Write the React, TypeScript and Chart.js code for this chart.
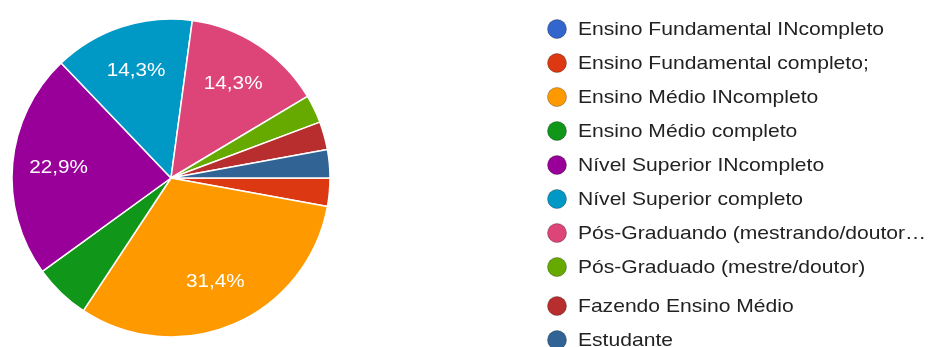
import React, { useEffect, useRef } from "react";
import { Chart, registerables } from "chart.js";

Chart.register(...registerables);

const categories = [
  "Ensino Fundamental INcompleto",
  "Ensino Fundamental completo;",
  "Ensino Médio INcompleto",
  "Ensino Médio completo",
  "Nível Superior INcompleto",
  "Nível Superior completo",
  "Pós-Graduando (mestrando/doutor…",
  "Pós-Graduado (mestre/doutor)",
  "Fazendo Ensino Médio",
  "Estudante",
];

const counts = [0, 1, 11, 2, 8, 5, 5, 1, 1, 1];

const sliceColors = [
  "#3366cc",
  "#dc3912",
  "#ff9900",
  "#109618",
  "#990099",
  "#0099c6",
  "#dd4477",
  "#66aa00",
  "#b82e2e",
  "#316395",
];

const fmtPct = (v: number, total: number) =>
  ((v / total) * 100).toFixed(1).replace(".", ",") + "%";

const pieLabelsPlugin = {
  id: "pieLabels",
  afterDatasetsDraw(chart: any) {
    const ctx = chart.ctx;
    const meta = chart.getDatasetMeta(0);
    const data = chart.data.datasets[0].data as number[];
    const total = data.reduce((a, b) => a + b, 0);
    ctx.save();
    ctx.font = "18px 'Liberation Sans', Arial, sans-serif";
    ctx.fillStyle = "#ffffff";
    ctx.textAlign = "center";
    ctx.textBaseline = "middle";
    meta.data.forEach((arc: any, i: number) => {
      const v = data[i];
      if (v / total < 0.1) return;
      const p = arc.getProps(["x", "y", "startAngle", "endAngle", "outerRadius"], true);
      const mid = (p.startAngle + p.endAngle) / 2;
      const r = p.outerRadius * 0.71;
      const tx = p.x + Math.cos(mid) * r;
      const ty = p.y + Math.sin(mid) * r;
      ctx.save();
      ctx.translate(tx, ty);
      ctx.scale(1.15, 1);
      ctx.fillText(fmtPct(v, total), 0, 0);
      ctx.restore();
    });
    ctx.restore();
  },
};

const legendPlugin = {
  id: "sideLegend",
  afterDraw(chart: any) {
    const ctx = chart.ctx;
    const labels = chart.data.labels as string[];
    const colors = chart.data.datasets[0].backgroundColor as string[];
    ctx.save();
    ctx.font = "18.5px 'Liberation Sans', Arial, sans-serif";
    ctx.textBaseline = "middle";
    ctx.textAlign = "left";
    labels.forEach((lab, i) => {
      const cy = 29 + 34 * i + (i >= 8 ? 5 : 0);
      const cx = 557;
      ctx.beginPath();
      ctx.arc(cx, cy, 9.5, 0, Math.PI * 2);
      ctx.fillStyle = colors[i];
      ctx.fill();
      ctx.lineWidth = 0.8;
      ctx.strokeStyle = "rgba(0,0,0,0.35)";
      ctx.stroke();
      ctx.fillStyle = "#222222";
      ctx.save();
      ctx.translate(578, cy + 1);
      ctx.scale(1.14, 1);
      ctx.fillText(lab, 0, 0);
      ctx.restore();
    });
    ctx.restore();
  },
};

export default function App() {
  const ref = useRef<HTMLCanvasElement | null>(null);
  useEffect(() => {
    if (!ref.current) return;
    const chart = new Chart(ref.current, {
      type: "pie",
      data: {
        labels: categories,
        datasets: [
          {
            data: counts,
            backgroundColor: sliceColors,
            borderColor: "#ffffff",
            borderWidth: 1.5,
            radius: 159,
          } as any,
        ],
      },
      options: {
        responsive: false,
        animation: false,
        rotation: 90,
        layout: { padding: { left: 12, top: 19, right: 598, bottom: 10 } },
        plugins: {
          legend: { display: false },
          tooltip: { enabled: false },
        },
      },
      plugins: [pieLabelsPlugin, legendPlugin],
    });
    return () => chart.destroy();
  }, []);
  return (
    <div
      style={{
        position: "absolute",
        left: 0,
        top: 0,
        width: 928,
        height: 347,
        overflow: "hidden",
        background: "#ffffff",
      }}
    >
      <canvas ref={ref} width={928} height={347} style={{ display: "block" }} />
    </div>
  );
}
